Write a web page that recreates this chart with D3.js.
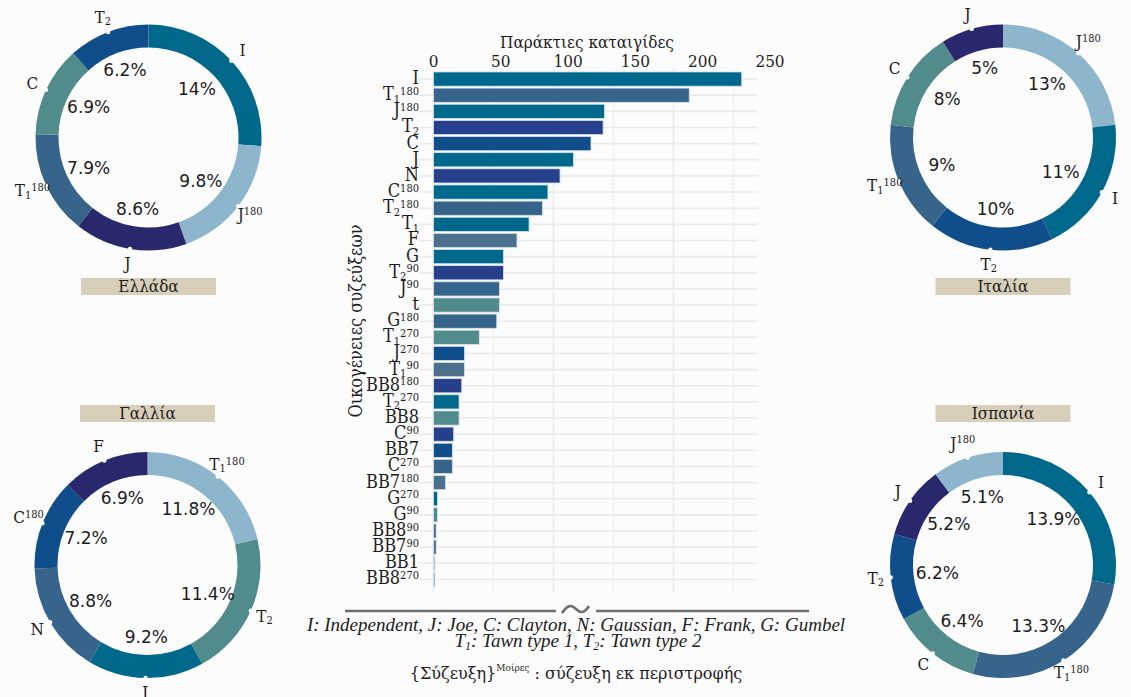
<!DOCTYPE html>
<html>
<head>
<meta charset="utf-8">
<script src="https://cdn.jsdelivr.net/npm/d3@7"></script>
<style>
  body { margin: 0; background: #fcfcfc; }
  svg { display: block; }
</style>
</head>
<body>
<svg id="chart"></svg>
<script>
const width = 1131;
const height = 697;
const serif = "'DejaVu Serif Condensed', 'DejaVu Serif', serif";
const textColor = "#1c1c1c";

// ΔΕΔΟΜΕΝΑ - ραβδόγραμμα (πάνω προς κάτω)
const families = ["I", "T_1^180", "J^180", "T_2", "C", "J", "N", "C^180", "T_2^180", "T_1",
  "F", "G", "T_2^90", "J^90", "t", "G^180", "T_1^270", "J^270", "T_1^90", "BB8^180",
  "T_2^270", "BB8", "C^90", "BB7", "C^270", "BB7^180", "G^270", "G^90", "BB8^90",
  "BB7^90", "BB1", "BB8^270"];
const counts = [229, 190, 127, 126, 117, 104, 94, 85, 81, 71,
  62, 52, 52, 49, 49, 47, 34, 23, 23, 21,
  19, 19, 15, 14, 14, 9, 3, 3, 2,
  2, 1, 1];
const barColors = ["#00688b", "#36648b", "#00688b", "#27408b", "#104e8b", "#00688b", "#27408b", "#00688b", "#36648b", "#00688b",
  "#4a708b", "#00688b", "#27408b", "#36648b", "#528b8b", "#36648b", "#528b8b", "#104e8b", "#4a708b", "#27408b",
  "#00688b", "#528b8b", "#27408b", "#104e8b", "#36648b", "#4a708b", "#00688b", "#528b8b", "#4a708b",
  "#4a708b", "#6a9a9c", "#4682b4"];
const xTicks = [0, 50, 100, 150, 200, 250];

// ΔΕΔΟΜΕΝΑ - δακτύλιοι ανά χώρα
const greeceFamilies = ["I", "J^180", "J", "T_1^180", "C", "T_2"];
const greeceShares = [14, 9.8, 8.6, 7.9, 6.9, 6.2];
const italyFamilies = ["J^180", "I", "T_2", "T_1^180", "C", "J"];
const italyShares = [13, 11, 10, 9, 8, 5];
const franceFamilies = ["T_1^180", "T_2", "I", "N", "C^180", "F"];
const franceShares = [11.8, 11.4, 9.2, 8.8, 7.2, 6.9];
const spainFamilies = ["I", "T_1^180", "C", "T_2", "J", "J^180"];
const spainShares = [13.9, 13.3, 6.4, 6.2, 5.2, 5.1];

const familyColors = {
  "I": "#00688b", "J^180": "#8db6cd", "J": "#29286d", "T_1^180": "#36648b",
  "C": "#528b8b", "T_2": "#104e8b"
};
const franceColors = ["#8db6cd", "#528b8b", "#00688b", "#36648b", "#104e8b", "#29286d"];

const svg = d3.select("#chart")
  .attr("width", width)
  .attr("height", height)
  .style("background", "#fcfcfc");

// ετικέτες με δείκτες: "T_1^180" -> T, δείκτης 1, εκθέτης 180
function richLabel(text, label, size) {
  const m = label.match(/^([^_^]+)(?:_([^^]+))?(?:\^(.+))?$/);
  text.append("tspan").text(m[1]);
  const small = Math.round(size * 0.62);
  let down = 0;
  if (m[2]) {
    down = size * 0.14;
    text.append("tspan").attr("font-size", small).attr("dy", down).text(m[2]);
  }
  if (m[3]) {
    text.append("tspan").attr("font-size", small).attr("dy", -down - size * 0.3).text(m[3]);
  }
}

// ΡΑΒΔΟΓΡΑΜΜΑ
const x = d3.scaleLinear().domain([0, 250]).range([433.5, 770]);
const gridX = d3.scaleLinear().domain([0, 250]).range([433.5, 733.5]);
const y = d3.scaleBand().domain(families).range([71, 587.5]).paddingInner(0.12).paddingOuter(0.06);

const bar = svg.append("g");

bar.selectAll("line.vgrid")
  .data(gridX.ticks(5))
  .enter()
  .append("line")
  .attr("x1", d => gridX(d))
  .attr("x2", d => gridX(d))
  .attr("y1", 68)
  .attr("y2", 591)
  .attr("stroke", "#ebebeb")
  .attr("stroke-width", d => d % 100 === 0 ? 1.6 : 0.8);

bar.selectAll("line.hgrid")
  .data(families)
  .enter()
  .append("line")
  .attr("x1", 418)
  .attr("x2", 758)
  .attr("y1", d => y(d) + y.bandwidth() / 2)
  .attr("y2", d => y(d) + y.bandwidth() / 2)
  .attr("stroke", "#ebebeb")
  .attr("stroke-width", 1.6);

bar.selectAll("rect")
  .data(families)
  .enter()
  .append("rect")
  .attr("x", x(0))
  .attr("y", d => y(d))
  .attr("width", (d, i) => x(counts[i]) - x(0))
  .attr("height", y.bandwidth())
  .attr("fill", (d, i) => barColors[i])
  .attr("stroke", "#d6e2ec")
  .attr("stroke-width", 0.8);

bar.selectAll("text.xtick")
  .data(xTicks)
  .enter()
  .append("text")
  .attr("x", d => x(d))
  .attr("y", 67)
  .attr("text-anchor", "middle")
  .attr("font-family", serif)
  .attr("font-size", 17)
  .attr("fill", textColor)
  .text(d => d);

bar.selectAll("text.ytick")
  .data(families)
  .enter()
  .append("text")
  .attr("x", 419)
  .attr("y", d => y(d) + y.bandwidth() / 2 + 5)
  .attr("text-anchor", "end")
  .attr("font-family", serif)
  .attr("font-size", 18)
  .attr("fill", textColor)
  .each(function (d) { richLabel(d3.select(this), d, 18); });

bar.append("text")
  .attr("x", 587)
  .attr("y", 48)
  .attr("text-anchor", "middle")
  .attr("font-family", serif)
  .attr("font-size", 17)
  .attr("fill", textColor)
  .text("Παράκτιες καταιγίδες");

bar.append("text")
  .attr("transform", "translate(362,321) rotate(-90)")
  .attr("text-anchor", "middle")
  .attr("font-family", serif)
  .attr("font-size", 18)
  .attr("fill", textColor)
  .text("Οικογένειες συζεύξεων");

// ΔΑΚΤΥΛΙΟΙ
const pie = d3.pie().sort(null).value(d => d);
const arc = d3.arc().innerRadius(90).outerRadius(113);

function donut(cx, cy, fams, shares, colors, name, boxY) {
  const g = svg.append("g").attr("transform", `translate(${cx},${cy})`);
  const arcs = pie(shares);

  g.selectAll("path")
    .data(arcs)
    .enter()
    .append("path")
    .attr("d", arc)
    .attr("fill", (d, i) => colors[i]);

  const mid = d => (d.startAngle + d.endAngle) / 2;

  g.selectAll("circle")
    .data(arcs)
    .enter()
    .append("circle")
    .attr("cx", d => 113 * Math.sin(mid(d)))
    .attr("cy", d => -113 * Math.cos(mid(d)))
    .attr("r", 2.2)
    .attr("fill", "#fcfcfc");

  g.selectAll("text.fam")
    .data(arcs)
    .enter()
    .append("text")
    .attr("x", d => 128 * Math.sin(mid(d)))
    .attr("y", d => -128 * Math.cos(mid(d)) + 5)
    .attr("text-anchor", "middle")
    .attr("font-family", serif)
    .attr("font-size", 17)
    .attr("fill", textColor)
    .each(function (d, i) { richLabel(d3.select(this), fams[i], 17); });

  g.selectAll("text.pct")
    .data(arcs)
    .enter()
    .append("text")
    .attr("x", d => 66 * Math.sin(mid(d)))
    .attr("y", d => -72 * Math.cos(mid(d)) + 6)
    .attr("text-anchor", "middle")
    .attr("font-family", "'DejaVu Sans', sans-serif")
    .attr("font-size", 17)
    .attr("fill", textColor)
    .text(d => d.data + "%");

  svg.append("rect")
    .attr("x", cx - 67.5)
    .attr("y", boxY)
    .attr("width", 135)
    .attr("height", 17)
    .attr("fill", "#d8cfba");

  svg.append("text")
    .attr("x", cx)
    .attr("y", boxY + 14)
    .attr("text-anchor", "middle")
    .attr("font-family", serif)
    .attr("font-size", 17)
    .attr("fill", textColor)
    .text(name);
}

donut(148.5, 137.5, greeceFamilies, greeceShares, greeceFamilies.map(f => familyColors[f]), "Ελλάδα", 278);
donut(1003, 137.5, italyFamilies, italyShares, italyFamilies.map(f => familyColors[f]), "Ιταλία", 278);
donut(147.5, 565, franceFamilies, franceShares, franceColors, "Γαλλία", 405);
donut(1003, 565, spainFamilies, spainShares, spainFamilies.map(f => familyColors[f]), "Ισπανία", 405);

// ΥΠΟΜΝΗΜΑ
const legend = svg.append("g");
const legendSerif = "'Liberation Serif', serif";

legend.append("line")
  .attr("x1", 345).attr("x2", 556).attr("y1", 611).attr("y2", 611)
  .attr("stroke", "#6f6f6f").attr("stroke-width", 2.6);
legend.append("line")
  .attr("x1", 596).attr("x2", 809).attr("y1", 611).attr("y2", 611)
  .attr("stroke", "#6f6f6f").attr("stroke-width", 2.6);
legend.append("path")
  .attr("d", "M562,613 C568,604 572,605 576,609 C580,613 584,614 589,606")
  .attr("fill", "none")
  .attr("stroke", "#6f6f6f")
  .attr("stroke-width", 2.6);

legend.append("text")
  .attr("x", 576)
  .attr("y", 631)
  .attr("text-anchor", "middle")
  .attr("font-family", legendSerif)
  .attr("font-style", "italic")
  .attr("font-size", 19)
  .attr("fill", textColor)
  .text("I: Independent, J: Joe, C: Clayton, N: Gaussian, F: Frank, G: Gumbel");

const l2 = legend.append("text")
  .attr("x", 578)
  .attr("y", 647)
  .attr("text-anchor", "middle")
  .attr("font-family", legendSerif)
  .attr("font-style", "italic")
  .attr("font-size", 19)
  .attr("fill", textColor);
l2.append("tspan").text("T");
l2.append("tspan").attr("font-size", 12).attr("dy", 3).text("1");
l2.append("tspan").attr("dy", -3).text(": Tawn type 1, T");
l2.append("tspan").attr("font-size", 12).attr("dy", 3).text("2");
l2.append("tspan").attr("dy", -3).text(": Tawn type 2");

const l3 = legend.append("text")
  .attr("x", 576)
  .attr("y", 679)
  .attr("text-anchor", "middle")
  .attr("font-family", "'DejaVu Serif', serif")
  .attr("font-size", 16)
  .attr("fill", textColor);
l3.append("tspan").text("{Σύζευξη}");
l3.append("tspan").attr("font-size", 9).attr("dy", -8).text("Μοίρες");
l3.append("tspan").attr("dy", 8).text(" : σύζευξη εκ περιστροφής");
</script>
</body>
</html>
